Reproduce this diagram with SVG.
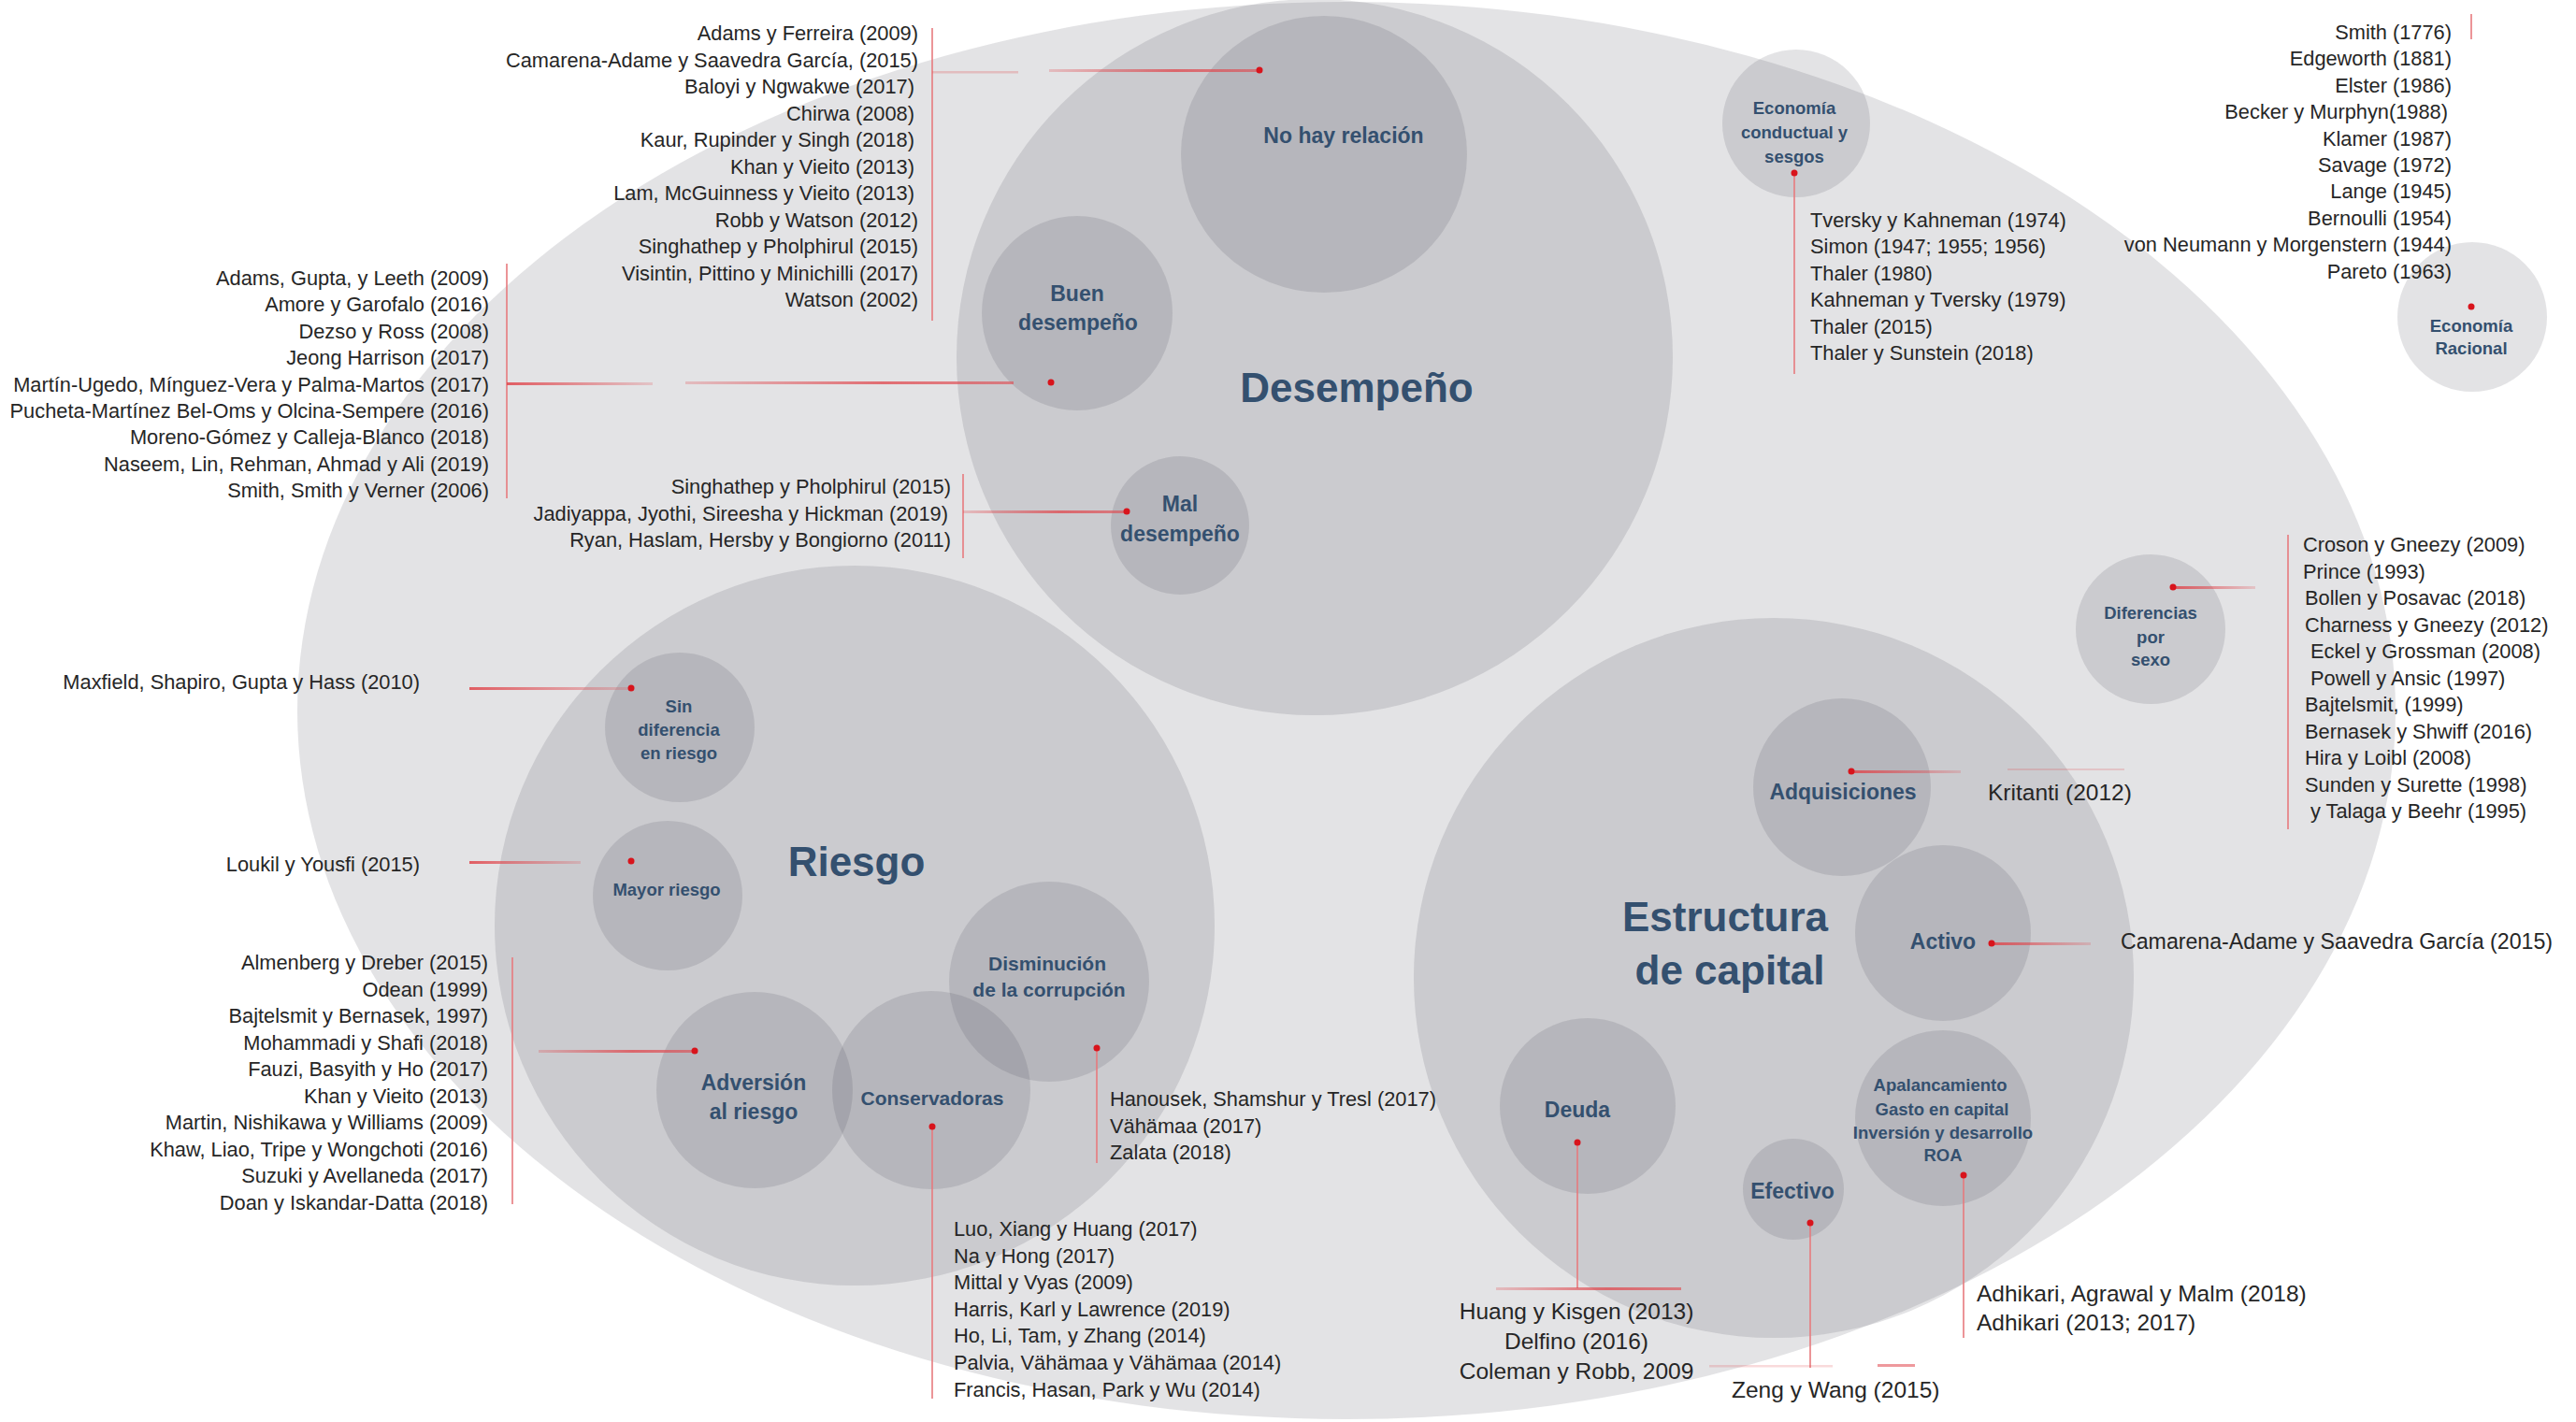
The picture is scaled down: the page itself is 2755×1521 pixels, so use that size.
<svg xmlns="http://www.w3.org/2000/svg" width="2755" height="1521" viewBox="0 0 2755 1521">
<defs>
<style>
.c{fill:#46464e;fill-opacity:0.15}
.lb{font-family:"Liberation Sans",Arial,sans-serif;font-weight:bold;fill:#34506f;text-anchor:middle}
.t{font-size:44px}
.m{font-size:23px}
.s{font-size:18.5px}
.r{font-family:"Liberation Sans",Arial,sans-serif;font-size:21.8px;fill:#262626}
.R{font-family:"Liberation Sans",Arial,sans-serif;font-size:24.5px;fill:#262626}
.e{text-anchor:end}
.mid{text-anchor:middle}
.v{stroke:#e77a7e;stroke-width:1.6;fill:none}
.d{fill:#d8141c}
</style>
<linearGradient id="gR" x1="0" y1="0" x2="1" y2="0">
<stop offset="0" stop-color="#e0464c" stop-opacity="0.25"/>
<stop offset="0.6" stop-color="#e0464c" stop-opacity="0.75"/>
<stop offset="1" stop-color="#e0464c" stop-opacity="0.6"/>
</linearGradient>
<linearGradient id="gL" x1="0" y1="0" x2="1" y2="0">
<stop offset="0" stop-color="#e0464c" stop-opacity="0.85"/>
<stop offset="1" stop-color="#e0464c" stop-opacity="0.2"/>
</linearGradient>
</defs>
<rect width="2755" height="1521" fill="#ffffff"/>
<g id="fondo"><ellipse class="c" cx="1440" cy="760" rx="1122" ry="758"/></g>
<g id="desempeno"><circle class="c" cx="1406" cy="382" r="383"/><text class="lb t" x="1451" y="430">Desempeño</text></g>
<g id="no-hay-relacion"><ellipse class="c" cx="1416" cy="165" rx="153" ry="148"/><text class="lb m" x="1437" y="153">No hay relación</text></g>
<g id="buen-desempeno"><ellipse class="c" cx="1152" cy="335" rx="102" ry="104"/><text class="lb m" x="1152" y="322">Buen</text><text class="lb m" x="1153" y="353">desempeño</text></g>
<g id="mal-desempeno"><circle class="c" cx="1262" cy="562" r="74"/><text class="lb m" x="1262" y="547">Mal</text><text class="lb m" x="1262" y="579">desempeño</text></g>
<g id="economia-conductual"><circle class="c" cx="1921" cy="132" r="79"/><text class="lb s" x="1919" y="122">Economía</text><text class="lb s" x="1919" y="148">conductual y</text><text class="lb s" x="1919" y="174">sesgos</text></g>
<g id="economia-racional"><circle class="c" cx="2644" cy="339" r="80"/><text class="lb s" x="2643" y="355">Economía</text><text class="lb s" x="2643" y="379">Racional</text></g>
<g id="riesgo"><circle class="c" cx="914" cy="990" r="385"/><text class="lb t" x="916" y="937">Riesgo</text></g>
<g id="sin-diferencia"><circle class="c" cx="727" cy="778" r="80"/><text class="lb s" x="726" y="762">Sin</text><text class="lb s" x="726" y="787">diferencia</text><text class="lb s" x="726" y="812">en riesgo</text></g>
<g id="mayor-riesgo"><circle class="c" cx="714" cy="958" r="80"/><text class="lb s" x="713" y="958">Mayor riesgo</text></g>
<g id="adversion"><circle class="c" cx="807" cy="1166" r="105"/><text class="lb m" x="806" y="1166">Adversión</text><text class="lb m" x="806" y="1197">al riesgo</text></g>
<g id="conservadoras"><circle class="c" cx="996" cy="1166" r="106"/><text class="lb s" x="997" y="1182" style="font-size:21px">Conservadoras</text></g>
<g id="disminucion"><circle class="c" cx="1122" cy="1050" r="107"/><text class="lb s" x="1120" y="1038" style="font-size:21px">Disminución</text><text class="lb s" x="1122" y="1066" style="font-size:21px">de la corrupción</text></g>
<g id="estructura"><circle class="c" cx="1897" cy="1046" r="385"/><text class="lb t" x="1845" y="996">Estructura</text><text class="lb t" x="1850" y="1053">de capital</text></g>
<g id="diferencias-sexo"><circle class="c" cx="2300" cy="673" r="80"/><text class="lb s" x="2300" y="662">Diferencias</text><text class="lb s" x="2300" y="688">por</text><text class="lb s" x="2300" y="712">sexo</text></g>
<g id="adquisiciones"><circle class="c" cx="1970" cy="842" r="95"/><text class="lb m" x="1971" y="855">Adquisiciones</text></g>
<g id="activo"><circle class="c" cx="2078" cy="998" r="94"/><text class="lb m" x="2078" y="1015">Activo</text></g>
<g id="deuda"><circle class="c" cx="1698" cy="1183" r="94"/><text class="lb m" x="1687" y="1195">Deuda</text></g>
<g id="efectivo"><circle class="c" cx="1918" cy="1272" r="54"/><text class="lb m" x="1917" y="1282">Efectivo</text></g>
<g id="apalancamiento"><circle class="c" cx="2078" cy="1196" r="94"/><text class="lb s" x="2075" y="1167">Apalancamiento</text><text class="lb s" x="2077" y="1193">Gasto en capital</text><text class="lb s" x="2078" y="1218">Inversión y desarrollo</text><text class="lb s" x="2078" y="1242">ROA</text></g>

<g id="conectores">
<line class="v" x1="997" y1="30" x2="997" y2="343"/>
<rect x="997" y="76" width="92" height="2.5" fill="#e0464c" fill-opacity="0.25"/>
<rect x="1122" y="74" width="225" height="3" fill="url(#gR)"/>
<circle class="d" cx="1347" cy="75" r="3.5"/>
<line class="v" x1="542" y1="282" x2="542" y2="533"/>
<rect x="542" y="409" width="156" height="3" fill="url(#gL)"/>
<rect x="733" y="408" width="351" height="3" fill="url(#gR)"/>
<circle class="d" cx="1124" cy="409" r="3.5"/>
<line class="v" x1="1030" y1="507" x2="1030" y2="597"/>
<rect x="1030" y="546" width="175" height="3" fill="url(#gR)"/>
<circle class="d" cx="1205" cy="547" r="3.5"/>
<line class="v" x1="1919" y1="185" x2="1919" y2="400"/>
<circle class="d" cx="1919" cy="185" r="3.5"/>
<line class="v" x1="2643" y1="15" x2="2643" y2="42"/>
<circle class="d" cx="2643" cy="328" r="3.5"/>
<rect x="2324" y="627" width="88" height="3" fill="url(#gL)"/>
<circle class="d" cx="2324" cy="628" r="3.5"/>
<line class="v" x1="2447" y1="572" x2="2447" y2="887"/>
<rect x="1980" y="824" width="117" height="3" fill="url(#gL)"/>
<rect x="2147" y="822" width="125" height="2" fill="#e0464c" fill-opacity="0.2"/>
<circle class="d" cx="1980" cy="825" r="3.5"/>
<rect x="2130" y="1008" width="106" height="3" fill="url(#gL)"/>
<circle class="d" cx="2130" cy="1009" r="3.5"/>
<line class="v" x1="1687" y1="1222" x2="1687" y2="1378"/>
<rect x="1600" y="1377" width="198" height="3" fill="url(#gR)"/>
<circle class="d" cx="1687" cy="1222" r="3.5"/>
<line class="v" x1="1936" y1="1308" x2="1936" y2="1463"/>
<rect x="1828" y="1460" width="132" height="2.5" fill="#e0464c" fill-opacity="0.2"/>
<rect x="2008" y="1459" width="40" height="3" fill="#e0464c" fill-opacity="0.55"/>
<circle class="d" cx="1936" cy="1308" r="3.5"/>
<line class="v" x1="2100" y1="1257" x2="2100" y2="1431"/>
<circle class="d" cx="2100" cy="1257" r="3.5"/>
<rect x="502" y="735" width="173" height="3" fill="url(#gL)"/>
<circle class="d" cx="675" cy="736" r="3.5"/>
<rect x="502" y="921" width="119" height="3" fill="url(#gL)"/>
<circle class="d" cx="675" cy="921" r="3.5"/>
<line class="v" x1="548" y1="1024" x2="548" y2="1288"/>
<rect x="576" y="1123" width="167" height="3" fill="url(#gR)"/>
<circle class="d" cx="743" cy="1124" r="3.5"/>
<line class="v" x1="1173" y1="1121" x2="1173" y2="1244"/>
<circle class="d" cx="1173" cy="1121" r="3.5"/>
<line class="v" x1="997" y1="1205" x2="997" y2="1496"/>
<circle class="d" cx="997" cy="1205" r="3.5"/>
</g>

<g id="refs-no-hay-relacion" class="r e">
<text x="982" y="43">Adams y Ferreira (2009)</text>
<text x="982" y="71.5">Camarena-Adame y Saavedra García, (2015)</text>
<text x="978" y="100">Baloyi y Ngwakwe (2017)</text>
<text x="978" y="128.5">Chirwa (2008)</text>
<text x="978" y="157">Kaur, Rupinder y Singh (2018)</text>
<text x="978" y="185.5">Khan y Vieito (2013)</text>
<text x="978" y="214">Lam, McGuinness y Vieito (2013)</text>
<text x="982" y="242.5">Robb y Watson (2012)</text>
<text x="982" y="271">Singhathep y Pholphirul (2015)</text>
<text x="982" y="299.5">Visintin, Pittino y Minichilli (2017)</text>
<text x="982" y="328">Watson (2002)</text>
</g>
<g id="refs-buen-desempeno" class="r e">
<text x="523" y="305">Adams, Gupta, y Leeth (2009)</text>
<text x="523" y="333.4">Amore y Garofalo (2016)</text>
<text x="523" y="361.8">Dezso y Ross (2008)</text>
<text x="523" y="390.2">Jeong Harrison (2017)</text>
<text x="523" y="418.6">Martín-Ugedo, Mínguez-Vera y Palma-Martos (2017)</text>
<text x="523" y="447">Pucheta-Martínez Bel-Oms y Olcina-Sempere (2016)</text>
<text x="523" y="475.4">Moreno-Gómez y Calleja-Blanco (2018)</text>
<text x="523" y="503.8">Naseem, Lin, Rehman, Ahmad y Ali (2019)</text>
<text x="523" y="532.2">Smith, Smith y Verner (2006)</text>
</g>
<g id="refs-mal-desempeno" class="r e">
<text x="1017" y="528">Singhathep y Pholphirul (2015)</text>
<text x="1014" y="557">Jadiyappa, Jyothi, Sireesha y Hickman (2019)</text>
<text x="1017" y="585">Ryan, Haslam, Hersby y Bongiorno (2011)</text>
</g>
<g id="refs-economia-conductual" class="r">
<text x="1936" y="243">Tversky y Kahneman (1974)</text>
<text x="1936" y="271.4">Simon (1947; 1955; 1956)</text>
<text x="1936" y="299.8">Thaler (1980)</text>
<text x="1936" y="328.2">Kahneman y Tversky (1979)</text>
<text x="1936" y="356.6">Thaler (2015)</text>
<text x="1936" y="385">Thaler y Sunstein (2018)</text>
</g>
<g id="refs-economia-racional" class="r e">
<text x="2622" y="42">Smith (1776)</text>
<text x="2622" y="70.4">Edgeworth (1881)</text>
<text x="2622" y="98.8">Elster (1986)</text>
<text x="2618" y="127.2">Becker y Murphyn(1988)</text>
<text x="2622" y="155.6">Klamer (1987)</text>
<text x="2622" y="184">Savage (1972)</text>
<text x="2622" y="212.4">Lange (1945)</text>
<text x="2622" y="240.8">Bernoulli (1954)</text>
<text x="2622" y="269.2">von Neumann y Morgenstern (1944)</text>
<text x="2622" y="297.6">Pareto (1963)</text>
</g>
<g id="refs-diferencias-sexo" class="r">
<text x="2463" y="590">Croson y Gneezy (2009)</text>
<text x="2463" y="618.5">Prince (1993)</text>
<text x="2465" y="647">Bollen y Posavac (2018)</text>
<text x="2465" y="675.5">Charness y Gneezy (2012)</text>
<text x="2471" y="704">Eckel y Grossman (2008)</text>
<text x="2471" y="732.5">Powell y Ansic (1997)</text>
<text x="2465" y="761">Bajtelsmit, (1999)</text>
<text x="2465" y="789.5">Bernasek y Shwiff (2016)</text>
<text x="2465" y="818">Hira y Loibl (2008)</text>
<text x="2465" y="846.5">Sunden y Surette (1998)</text>
<text x="2471" y="875">y Talaga y Beehr (1995)</text>
</g>
<g id="refs-sin-diferencia" class="r e"><text x="449" y="737">Maxfield, Shapiro, Gupta y Hass (2010)</text></g>
<g id="refs-mayor-riesgo" class="r e"><text x="449" y="932">Loukil y Yousfi (2015)</text></g>
<g id="refs-adversion" class="r e">
<text x="522" y="1037">Almenberg y Dreber (2015)</text>
<text x="522" y="1065.5">Odean (1999)</text>
<text x="522" y="1094">Bajtelsmit y Bernasek, 1997)</text>
<text x="522" y="1122.5">Mohammadi y Shafi (2018)</text>
<text x="522" y="1151">Fauzi, Basyith y Ho (2017)</text>
<text x="522" y="1179.5">Khan y Vieito (2013)</text>
<text x="522" y="1208">Martin, Nishikawa y Williams (2009)</text>
<text x="522" y="1236.5">Khaw, Liao, Tripe y Wongchoti (2016)</text>
<text x="522" y="1265">Suzuki y Avellaneda (2017)</text>
<text x="522" y="1293.5">Doan y Iskandar-Datta (2018)</text>
</g>
<g id="refs-disminucion" class="r">
<text x="1187" y="1183">Hanousek, Shamshur y Tresl (2017)</text>
<text x="1187" y="1211.5">Vähämaa (2017)</text>
<text x="1187" y="1240">Zalata (2018)</text>
</g>
<g id="refs-conservadoras" class="r">
<text x="1020" y="1322">Luo, Xiang y Huang (2017)</text>
<text x="1020" y="1350.6">Na y Hong (2017)</text>
<text x="1020" y="1379.2">Mittal y Vyas (2009)</text>
<text x="1020" y="1407.8">Harris, Karl y Lawrence (2019)</text>
<text x="1020" y="1436.4">Ho, Li, Tam, y Zhang (2014)</text>
<text x="1020" y="1465">Palvia, Vähämaa y Vähämaa (2014)</text>
<text x="1020" y="1493.6">Francis, Hasan, Park y Wu (2014)</text>
</g>
<g id="refs-adquisiciones" class="R"><text x="2126" y="856">Kritanti (2012)</text></g>
<g id="refs-activo" class="R"><text x="2268" y="1015" textLength="462" lengthAdjust="spacingAndGlyphs">Camarena-Adame y Saavedra García (2015)</text></g>
<g id="refs-deuda" class="R mid">
<text x="1686" y="1411">Huang y Kisgen (2013)</text>
<text x="1686" y="1443">Delfino (2016)</text>
<text x="1686" y="1475">Coleman y Robb, 2009</text>
</g>
<g id="refs-efectivo" class="R"><text x="1852" y="1495">Zeng y Wang (2015)</text></g>
<g id="refs-apalancamiento" class="R">
<text x="2114" y="1392">Adhikari, Agrawal y Malm (2018)</text>
<text x="2114" y="1423">Adhikari (2013; 2017)</text>
</g>
</svg>
